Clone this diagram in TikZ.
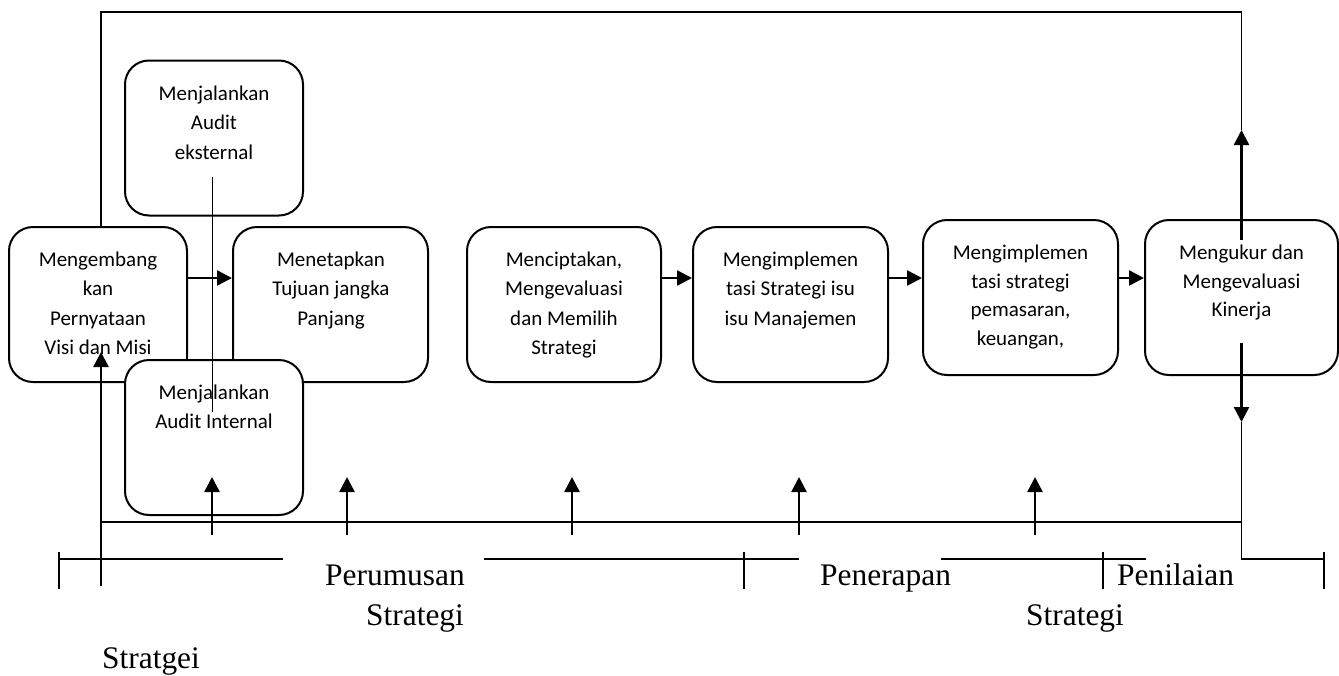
\documentclass[tikz,border=0pt]{standalone}
\usepackage{fontspec}
\setmainfont{Liberation Serif}
\newfontfamily\boxfont{Carlito}
\usetikzlibrary{arrows.meta}
\begin{document}
\begin{tikzpicture}[x=1pt,y=-1pt,
  box/.style={draw, line width=2pt, rounded corners=24pt, fill=white, inner sep=0pt, minimum height=155pt},
  boxtxt/.style={font=\boxfont\fontsize{21}{29.5}\selectfont, align=center, anchor=base, inner sep=0pt},
  boxtxtb/.style={boxtxt, font=\boxfont\fontsize{21}{28.5}\selectfont},
  arr/.style={line width=2.5pt, -{Triangle[length=15pt,width=15pt]}},
  frame/.style={line width=1.8pt},
  tl/.style={line width=1.5pt},
  lab/.style={font=\fontsize{31.4}{40}\selectfont, anchor=base west, inner sep=0pt}]
\useasboundingbox (0,0) rectangle (1339,675);

% coordinates
\coordinate (ftl) at (101,12);
\coordinate (ftr) at (1241.5,12);
\coordinate (upTip) at (1241.5,130);
\coordinate (kinUp) at (1241.5,240);
\coordinate (kinDn) at (1241.5,343);
\coordinate (dnTip) at (1241.5,422);
\coordinate (bL) at (101,522);
\coordinate (bR) at (1241.5,522);
\coordinate (tlR) at (1241.5,559);
\coordinate (tlEnd) at (1324,559);
\coordinate (lBot) at (101,586);
\coordinate (lTip) at (101,352);
\coordinate (auxTop) at (212,177);
\coordinate (auxBot) at (212,412);

% boxes
\node[box, minimum width=178pt] (ext) at (214,138) {};
\node[box, minimum width=178pt] (vis) at (98,304.5) {};
\node[box, minimum width=195pt] (tuj) at (330.5,304.5) {};
\node[box, minimum width=178pt] (int) at (214,437.5) {};
\node[box, minimum width=194pt] (cip) at (564,304.5) {};
\node[box, minimum width=195pt] (man) at (790.5,304.5) {};
\node[box, minimum width=195pt] (pem) at (1020.5,297.5) {};
\node[box, minimum width=193pt] (kin) at (1241.5,297.5) {};

% box texts (anchor = baseline of the last line)
\node[boxtxt] (textt) at (214,159) {Menjalankan\\Audit\\eksternal};
\node[boxtxt] (visit) at (98,354.5) {Mengembang\\kan\\Pernyataan\\Visi dan Misi};
\node[boxtxt] (tujt) at (331,325) {Menetapkan\\Tujuan jangka\\Panjang};
\node[boxtxt] (intt) at (214,428.5) {Menjalankan\\Audit Internal};
\node[boxtxt] (cipt) at (564,354.5) {Menciptakan,\\Mengevaluasi\\dan Memilih\\Strategi};
\node[boxtxt] (mant) at (790.5,325) {Mengimplemen\\tasi Strategi isu\\isu Manajemen};
\node[boxtxtb] (pemt) at (1020.5,345) {Mengimplemen\\tasi strategi\\pemasaran,\\keuangan,};
\node[boxtxtb] (kint) at (1241.5,316.5) {Mengukur dan\\Mengevaluasi\\Kinerja};

% thin line through audit boxes
\draw[line width=1pt] (auxTop) -- (auxBot);

% arrows between boxes
\draw[arr] ([yshift=26.5pt]vis.east) -- ([yshift=26.5pt]tuj.west);
\draw[arr] ([yshift=26.5pt]cip.east) -- ([yshift=26.5pt]man.west);
\draw[arr] ([yshift=26.5pt]man.east) -- ([yshift=19.5pt]pem.west);
\draw[arr] ([yshift=19.5pt]pem.east) -- ([yshift=19.5pt]kin.west);

% feedback frame
\draw[frame] (vis.north -| ftl) -- (ftl) -- (ftr) -- (upTip);
\draw[arr] (kinUp) -- (upTip);
\draw[arr] (kinDn) -- (dnTip);
\draw[frame] (dnTip) -- (tlR) -- (tlEnd);
\draw[frame] (bL) -- (bR);
\draw[arr] (lBot) -- (lTip);

% upward arrows from base line
\foreach \x [count=\i] in {212,347,572,799,1035} {
  \coordinate (ua\i) at (\x,535);
  \coordinate (ub\i) at (\x,477);
  \draw[arr] (ua\i) -- (ub\i);
}

% timeline segments
\coordinate (s1a) at (59,559);  \coordinate (s1b) at (283,559);
\coordinate (s2a) at (484,559); \coordinate (s2b) at (799,559);
\coordinate (s3a) at (941,559); \coordinate (s3b) at (1146,559);
\draw[tl] (s1a) -- (s1b);
\draw[tl] (s2a) -- (s2b);
\draw[tl] (s3a) -- (s3b);
\foreach \x [count=\i] in {59,744,1103,1324} {
  \coordinate (ka\i) at (\x,552);
  \coordinate (kb\i) at (\x,589);
  \draw[tl] (ka\i) -- (kb\i);
}

% labels
\node[lab] (per) at (325,585) {Perumusan};
\node[lab] (str1) at (366,625) {Strategi};
\node[lab] (pen) at (820,585) {Penerapan};
\node[lab] (str2) at (1026,625) {Strategi};
\node[lab] (nil) at (1117,585) {Penilaian};
\node[lab] (stg) at (102,668) {Stratgei};
\end{tikzpicture}
\end{document}
